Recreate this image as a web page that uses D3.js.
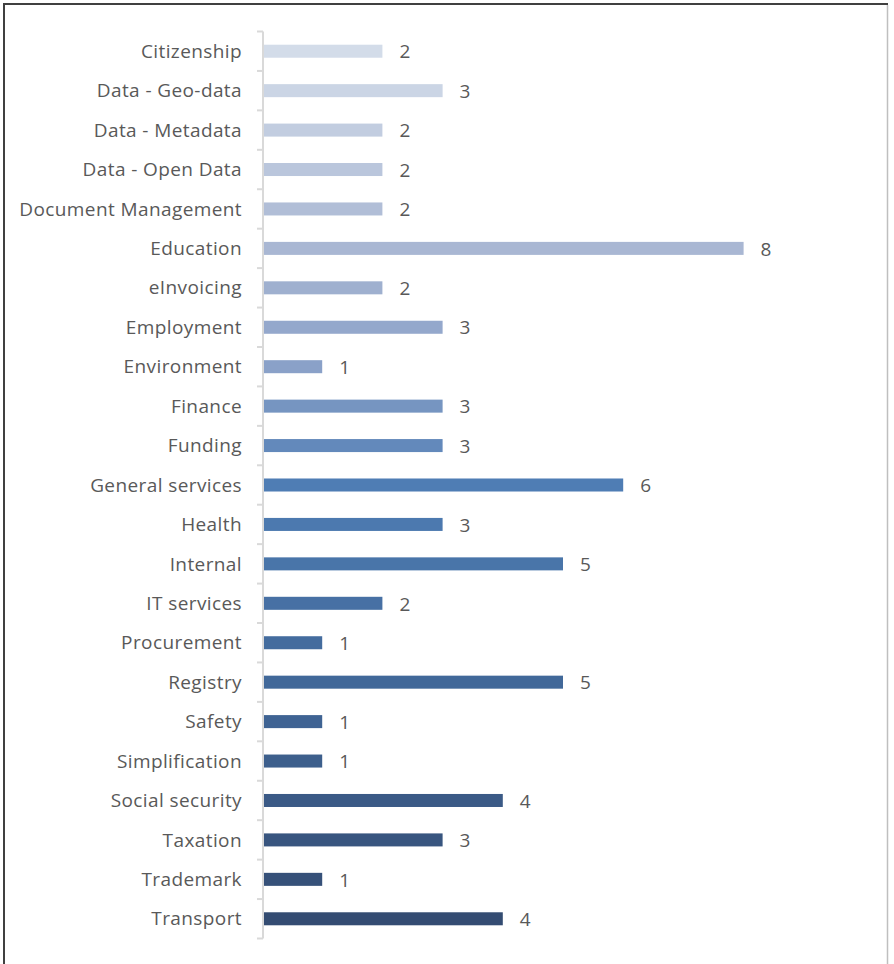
<!DOCTYPE html>
<html>
<head>
<meta charset="utf-8">
<script src="https://cdn.jsdelivr.net/npm/d3@7"></script>
<style>
  body { margin: 0; background: #fff; }
  svg text { font-family: "Open Sans", sans-serif; }
</style>
</head>
<body>
<div id="chart"></div>
<script>
var categories = ["Citizenship", "Data - Geo-data", "Data - Metadata", "Data - Open Data",
  "Document Management", "Education", "eInvoicing", "Employment", "Environment", "Finance",
  "Funding", "General services", "Health", "Internal", "IT services", "Procurement",
  "Registry", "Safety", "Simplification", "Social security", "Taxation", "Trademark", "Transport"];
var counts = [2, 3, 2, 2, 2, 8, 2, 3, 1, 3, 3, 6, 3, 5, 2, 1, 5, 1, 1, 4, 3, 1, 4];

var width = 894, height = 964;
var margin = { top: 31.5, left: 262, bottom: 25.5 };

var svg = d3.select("#chart").append("svg")
    .attr("width", width)
    .attr("height", height);

// frame
svg.append("line").attr("x1", 4).attr("x2", 4).attr("y1", 4).attr("y2", height)
    .style("stroke", "#404040").style("stroke-width", 2);
svg.append("line").attr("x1", 3).attr("x2", 888).attr("y1", 4).attr("y2", 4)
    .style("stroke", "#404040").style("stroke-width", 2);
svg.append("line").attr("x1", 887.5).attr("x2", 887.5).attr("y1", 5).attr("y2", height)
    .style("stroke", "#bfbfbf").style("stroke-width", 1.5);

var x = d3.scaleLinear().domain([0, 8]).range([margin.left, margin.left + 8 * 60.2]);
var y = d3.scaleBand().domain(categories)
    .range([margin.top, height - margin.bottom])
    .paddingInner(0.67).paddingOuter(0.335);

var color = d3.scaleLinear()
    .domain([0, 5, 8, 11, 16, 22])
    .range(["#d3dce9", "#a9b7d3", "#8aa1c8", "#4f7db4", "#416899", "#344c72"]);

svg.selectAll("rect.bar")
    .data(categories)
    .enter().append("rect")
    .attr("class", "bar")
    .attr("x", x(0))
    .attr("y", function(d) { return y(d); })
    .attr("width", function(d, i) { return x(counts[i]) - x(0); })
    .attr("height", y.bandwidth())
    .style("fill", function(d, i) { return color(i); });

// axis with ticks at category boundaries
var step = y.step();
var bounds = d3.range(categories.length + 1).map(function(i) { return margin.top + i * step; });
svg.append("line")
    .attr("x1", margin.left + 1).attr("x2", margin.left + 1)
    .attr("y1", bounds[0]).attr("y2", bounds[bounds.length - 1])
    .style("stroke", "#d9d9d9").style("stroke-width", 2);
svg.selectAll("line.tick")
    .data(bounds)
    .enter().append("line")
    .attr("class", "tick")
    .attr("x1", margin.left - 5).attr("x2", margin.left + 1)
    .attr("y1", function(d) { return d; }).attr("y2", function(d) { return d; })
    .style("stroke", "#d9d9d9").style("stroke-width", 2);

svg.selectAll("text.cat")
    .data(categories)
    .enter().append("text")
    .attr("class", "cat")
    .attr("x", 242)
    .attr("y", function(d) { return y(d) + y.bandwidth() / 2; })
    .attr("dy", "0.35em")
    .attr("text-anchor", "end")
    .style("font-size", "19px")
    .style("letter-spacing", "0.4px")
    .style("fill", "#595959")
    .text(function(d) { return d; });

svg.selectAll("text.val")
    .data(categories)
    .enter().append("text")
    .attr("class", "val")
    .attr("x", function(d, i) { return x(counts[i]) + 17; })
    .attr("y", function(d) { return y(d) + y.bandwidth() / 2; })
    .attr("dy", "0.38em")
    .style("font-size", "19px")
    .style("fill", "#595959")
    .text(function(d, i) { return counts[i]; });
</script>
</body>
</html>
